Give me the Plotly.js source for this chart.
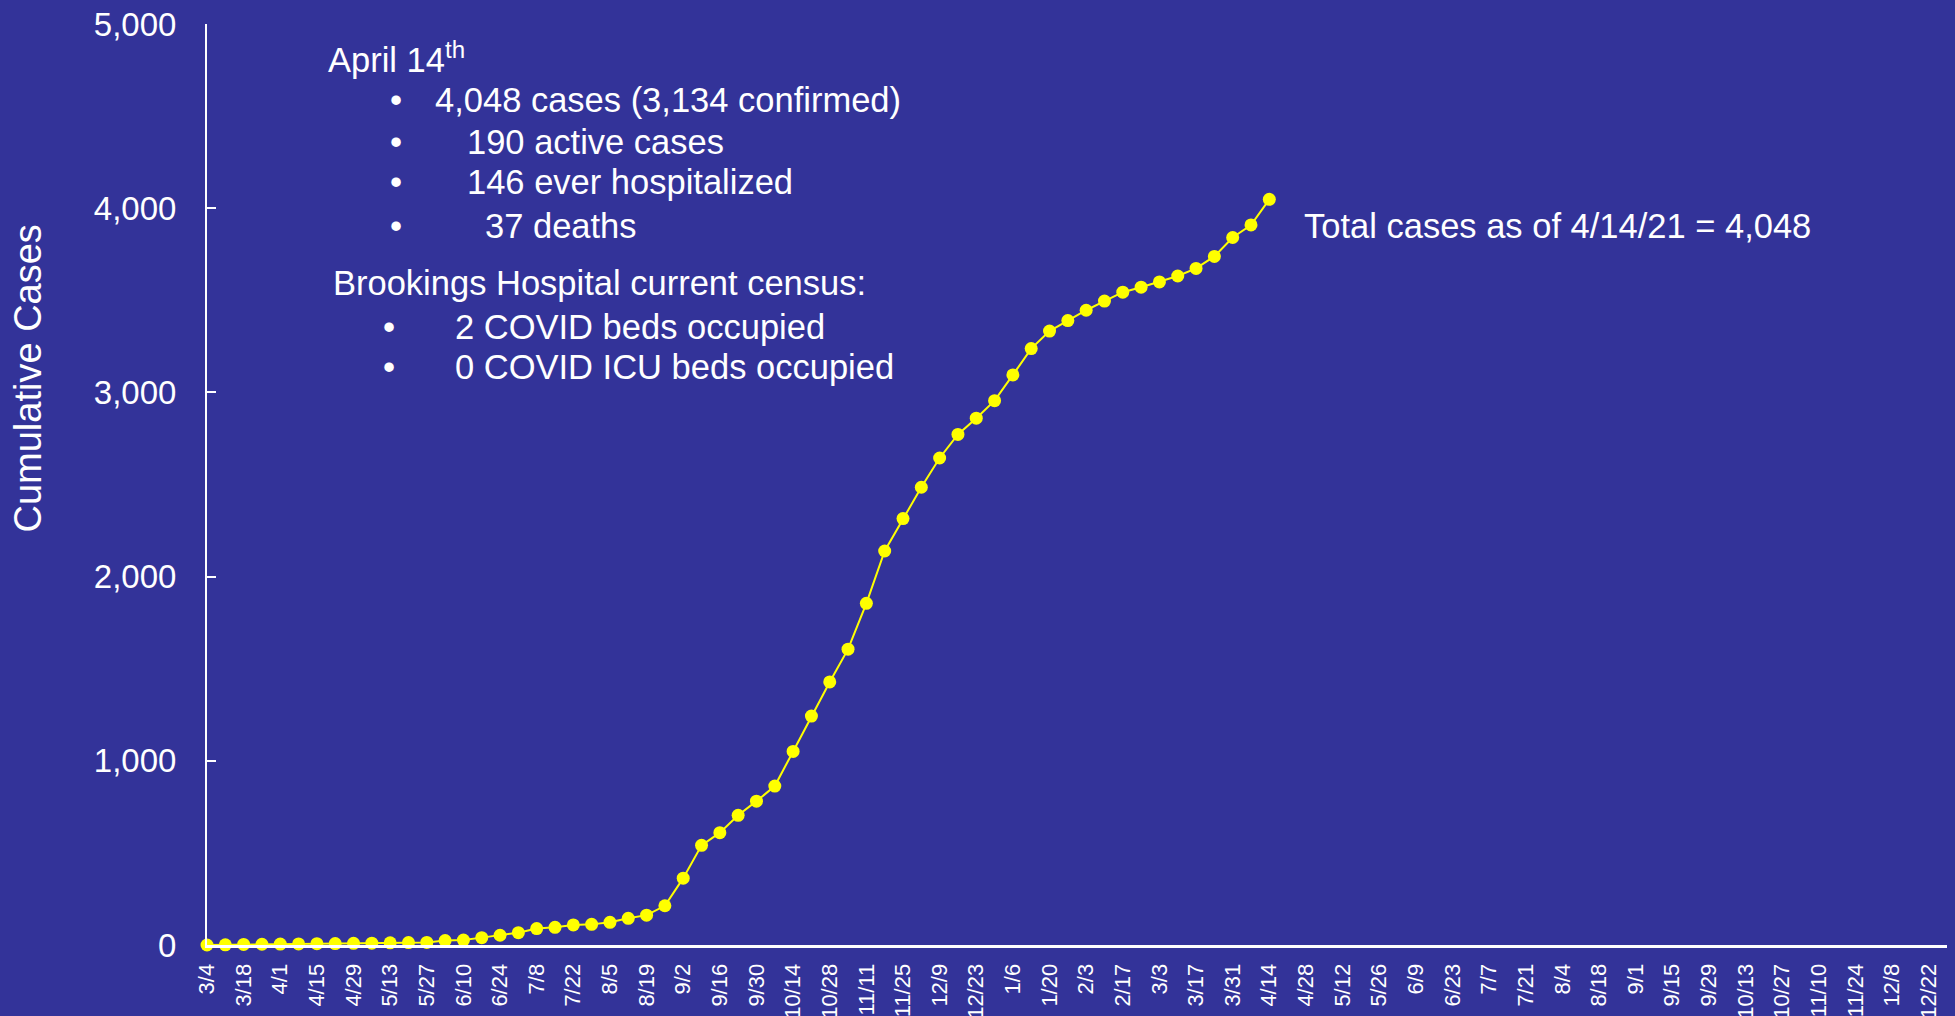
<!DOCTYPE html>
<html>
<head>
<meta charset="utf-8">
<script src="https://cdn.plot.ly/plotly-3.0.1.min.js"></script>
<style>
html,body{margin:0;padding:0;background:#333399;}
#chart{width:1955px;height:1016px;}
</style>
</head>
<body>
<div id="chart"></div>
<script>
// Weekly categories (Wednesdays), 3/4/2020 through 12/29/2021
const weeks = [
  "3/4","3/11","3/18","3/25","4/1","4/8","4/15","4/22","4/29","5/6","5/13","5/20","5/27",
  "6/3","6/10","6/17","6/24","7/1","7/8","7/15","7/22","7/29","8/5","8/12","8/19","8/26",
  "9/2","9/9","9/16","9/23","9/30","10/7","10/14","10/21","10/28","11/4","11/11","11/18","11/25",
  "12/2","12/9","12/16","12/23","12/30",
  "1/6","1/13","1/20","1/27","2/3","2/10","2/17","2/24","3/3","3/10","3/17","3/24","3/31","4/7","4/14",
  "4/21","4/28","5/5","5/12","5/19","5/26","6/2","6/9","6/16","6/23","6/30","7/7","7/14","7/21","7/28",
  "8/4","8/11","8/18","8/25","9/1","9/8","9/15","9/22","9/29","10/6","10/13","10/20","10/27",
  "11/3","11/10","11/17","11/24","12/1","12/8","12/15","12/22","12/29"
];

// Labelled ticks (every other week)
const tickLabels = [
  "3/4","3/18","4/1","4/15","4/29","5/13","5/27","6/10","6/24","7/8","7/22","8/5","8/19",
  "9/2","9/16","9/30","10/14","10/28","11/11","11/25","12/9","12/23","1/6","1/20","2/3","2/17",
  "3/3","3/17","3/31","4/14","4/28","5/12","5/26","6/9","6/23","7/7","7/21","8/4","8/18","9/1",
  "9/15","9/29","10/13","10/27","11/10","11/24","12/8","12/22"
];

// Cumulative cases, weekly 3/4/2020 .. 4/14/2021
const cumulativeCases = [
  0, 1, 3, 4, 5, 6, 7, 8, 9, 10, 12, 13, 14,
  24, 27, 40, 53, 67, 89, 96, 109, 112, 123, 145, 162, 213,
  363, 541, 610, 704, 781, 863, 1051, 1243, 1428, 1606, 1855, 2139, 2315,
  2485, 2644, 2772, 2860, 2955,
  3095, 3238, 3333, 3390, 3446, 3496, 3544, 3571, 3600, 3632, 3673, 3738, 3841, 3909, 4048
];

const yTicks = [0, 1000, 2000, 3000, 4000, 5000];
const yTitle = "Cumulative Cases";

const summaryLines = [
  {bullet: false, text: "April 14<sup>th</sup>", x: 325.5, y: 57},
  {bullet: true,  text: "4,048 cases (3,134 confirmed)", x: 432.5, y: 100, bx: 396},
  {bullet: true,  text: "190 active cases", x: 465, y: 142, bx: 396},
  {bullet: true,  text: "146 ever hospitalized", x: 465, y: 182, bx: 396},
  {bullet: true,  text: "37 deaths", x: 482.5, y: 226, bx: 396},
  {bullet: false, text: "Brookings Hospital current census:", x: 330.5, y: 283},
  {bullet: true,  text: "2 COVID beds occupied", x: 452.5, y: 327, bx: 389},
  {bullet: true,  text: "0 COVID ICU beds occupied", x: 452.5, y: 367, bx: 389}
];
const totalNote = {text: "Total cases as of 4/14/21 = 4,048", x: 1301.5, y: 226};

const W = 1955, H = 1016;
const M = {l: 207, r: 8, t: 24, b: 71};
const pw = W - M.l - M.r, ph = H - M.t - M.b;
const px = v => (v - M.l) / pw;
const py = v => (H - M.b - v) / ph;

const FONT = "Arial, 'Liberation Sans', sans-serif";
const annFont = {family: FONT, size: 34.5, color: "#ffffff"};

const annotations = [];
summaryLines.forEach(l => {
  annotations.push({xref: "paper", yref: "paper", x: px(l.x), y: py(l.y), xanchor: "left", yanchor: "middle",
    text: l.text, showarrow: false, font: annFont});
  if (l.bullet) {
    annotations.push({xref: "paper", yref: "paper", x: px(l.bx), y: py(l.y), xanchor: "center", yanchor: "middle",
      text: "•", showarrow: false, font: annFont});
  }
});
annotations.push({xref: "paper", yref: "paper", x: px(totalNote.x), y: py(totalNote.y), xanchor: "left", yanchor: "middle",
  text: totalNote.text, showarrow: false, font: annFont});
// y-axis title (placed off-centre, as in the original)
annotations.push({xref: "paper", yref: "paper", x: px(27.5), y: py(379), xanchor: "center", yanchor: "middle",
  textangle: -90, text: yTitle, showarrow: false, font: {family: FONT, size: 38, color: "#ffffff"}});

const trace = {
  type: "scatter",
  mode: "lines+markers",
  x: weeks.slice(0, cumulativeCases.length),
  y: cumulativeCases,
  line: {color: "#ffff00", width: 2},
  marker: {color: "#ffff00", size: 13},
  cliponaxis: false,
  hoverinfo: "x+y"
};

const layout = {
  width: W, height: H,
  margin: M,
  paper_bgcolor: "#333399",
  plot_bgcolor: "#333399",
  showlegend: false,
  font: {family: FONT, color: "#ffffff"},
  xaxis: {
    type: "category",
    categoryorder: "array",
    categoryarray: weeks,
    range: [0, weeks.length - 1],
    tickmode: "array",
    tickvals: tickLabels,
    ticktext: tickLabels,
    tickangle: -90,
    tickfont: {family: FONT, size: 22, color: "#ffffff"},
    ticks: "",
    ticklabelstandoff: 7,
    showline: true, linecolor: "#ffffff", linewidth: 3,
    showgrid: false, zeroline: false, fixedrange: true
  },
  yaxis: {
    range: [0, 5000],
    tickmode: "array",
    tickvals: yTicks,
    tickformat: ",d",
    ticks: "inside", ticklen: 9, tickwidth: 2, tickcolor: "#ffffff",
    tickfont: {family: FONT, size: 33, color: "#ffffff"},
    ticklabelstandoff: 22,
    showline: true, linecolor: "#ffffff", linewidth: 2,
    showgrid: false, zeroline: false, fixedrange: true
  },
  annotations: annotations
};

Plotly.newPlot("chart", [trace], layout, {displayModeBar: false, staticPlot: true});
</script>
</body>
</html>
